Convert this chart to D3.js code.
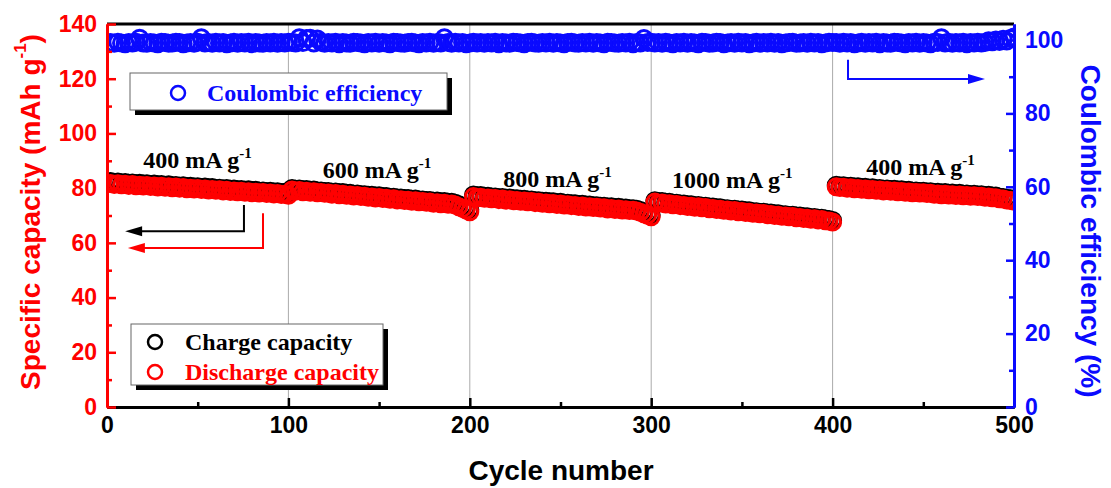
<!DOCTYPE html>
<meta charset="utf-8">
<style>
body { margin: 0; background: #fff; }
svg { display: block; }
.tick text { font-family: "Liberation Sans", Arial, sans-serif; font-weight: bold; font-size: 23px; }
.ann { font-family: "Liberation Serif", "Times New Roman", serif; font-weight: bold; font-size: 24px; }
.title { font-family: "Liberation Sans", Arial, sans-serif; font-weight: bold; font-size: 28px; }
</style>
<script src="https://d3js.org/d3.v7.min.js"></script>
<body>
<script>

// cycle numbers sampled every 2 cycles, 50 per current-density step
var cycles = d3.range(2, 501, 2);

var discharge400a = [81.7,81.3,81.6,81.2,81.4,81.0,81.3,80.9,81.1,80.8, 81.0,80.6,80.8,80.4,80.7,80.3,80.5,80.1,80.4,80.0,
  80.2,79.8,80.0,79.7,79.9,79.5,79.7,79.3,79.5,79.2, 79.4,79.0,79.2,78.8,79.0,78.7,78.9,78.5,78.7,78.3, 78.5,78.2,78.4,78.0,78.2,77.9,78.0,77.7,77.8,77.4];
var discharge600 = [79.3,78.9,79.1,78.7,78.9,78.5,78.7,78.3,78.4,78.1, 78.2,77.8,78.0,77.6,77.8,77.4,77.5,77.1,77.3,76.9,
  77.0,76.7,76.8,76.4,76.6,76.2,76.3,75.9,76.1,75.7, 75.8,75.5,75.6,75.2,75.4,75.0,75.1,74.8,74.9,74.5, 74.7,74.3,74.5,74.1,74.2,73.8,73.2,72.6,72.0,71.4];
var discharge800 = [76.9,76.5,76.7,76.3,76.4,76.1,76.2,75.8,76.0,75.6, 75.8,75.4,75.5,75.2,75.3,75.0,75.1,74.7,74.8,74.5,
  74.6,74.3,74.4,74.0,74.2,73.8,73.9,73.6,73.7,73.3, 73.5,73.1,73.2,72.9,73.0,72.7,72.8,72.4,72.6,72.2, 72.4,72.0,72.1,71.8,71.9,71.6,71.2,70.6,70.1,69.5];
var discharge1000 = [74.9,74.5,74.6,74.2,74.3,73.9,74.0,73.6,73.7,73.3, 73.4,73.0,73.2,72.8,72.9,72.5,72.6,72.2,72.3,71.9,
  72.0,71.6,71.8,71.4,71.5,71.1,71.2,70.8,70.9,70.6, 70.7,70.3,70.4,70.0,70.1,69.7,69.8,69.5,69.6,69.2, 69.3,68.9,69.0,68.6,68.8,68.4,68.5,68.1,68.0,67.6];
var discharge400b = [80.5,80.2,80.3,80.0,80.1,79.8,79.9,79.6,79.7,79.4, 79.5,79.2,79.3,79.0,79.1,78.9,79.0,78.7,78.8,78.5,
  78.6,78.3,78.4,78.2,78.3,78.0,78.1,77.8,77.9,77.6, 77.8,77.5,77.6,77.3,77.5,77.2,77.3,77.0,77.2,76.9, 77.0,76.7,76.8,76.5,76.5,76.1,76.0,75.7,75.5,75.2];

var charge400a = [82.4,82.1,82.2,81.9,82.1,81.8,81.9,81.6,81.8,81.5, 81.6,81.3,81.5,81.2,81.3,81.0,81.2,80.9,81.0,80.7,
  80.9,80.6,80.7,80.4,80.5,80.2,80.4,80.1,80.2,79.9, 80.0,79.7,79.9,79.6,79.7,79.4,79.5,79.2,79.4,79.1, 79.2,78.9,79.0,78.7,78.9,78.6,78.7,78.4,78.5,78.2];
var charge600 = [79.9,79.6,79.7,79.4,79.5,79.2,79.3,79.0,79.0,78.8, 78.8,78.5,78.6,78.3,78.4,78.1,78.1,77.8,77.9,77.6,
  77.6,77.4,77.4,77.1,77.2,76.9,76.9,76.6,76.7,76.4, 76.4,76.2,76.2,75.9,76.0,75.7,75.7,75.5,75.5,75.2, 75.3,75.0,75.1,74.8,74.8,74.5,73.9,73.3,72.7,72.1];
var charge800 = [77.5,77.2,77.3,77.0,77.0,76.8,76.8,76.5,76.6,76.3, 76.4,76.1,76.1,75.9,75.9,75.7,75.7,75.4,75.4,75.2,
  75.2,75.0,75.0,74.7,74.8,74.5,74.5,74.3,74.3,74.0, 74.1,73.8,73.8,73.6,73.6,73.4,73.4,73.1,73.2,72.9, 73.0,72.7,72.7,72.5,72.5,72.3,71.8,71.3,70.7,70.2];
var charge1000 = [75.4,75.1,75.1,74.8,74.8,74.5,74.5,74.2,74.2,73.9, 73.9,73.6,73.7,73.4,73.4,73.1,73.1,72.8,72.8,72.5,
  72.5,72.2,72.3,72.0,72.0,71.7,71.7,71.4,71.4,71.1, 71.2,70.9,70.9,70.6,70.6,70.3,70.3,70.0,70.1,69.8, 69.8,69.5,69.5,69.2,69.3,69.0,69.0,68.7,68.5,68.2];
var charge400b = [81.1,80.8,80.9,80.6,80.7,80.4,80.5,80.2,80.3,80.0, 80.1,79.8,79.9,79.6,79.7,79.5,79.6,79.3,79.4,79.1,
  79.2,78.9,79.0,78.8,78.9,78.6,78.7,78.4,78.5,78.2, 78.4,78.1,78.2,77.9,78.1,77.8,77.9,77.6,77.8,77.5, 77.6,77.3,77.4,77.1,77.1,76.7,76.6,76.3,76.1,75.8];

var ce400a = [99.3,99.1,99.4,99.2,99.0,99.3,99.2,99.4,100.5,99.2, 99.1,99.3,99.2,99.0,99.4,99.3,99.1,99.2,99.4,99.3,
  99.0,99.2,99.3,99.1,99.4,100.6,99.2,99.3,99.1,99.4, 99.2,99.3,99.0,99.2,99.4,99.1,99.3,99.2,99.4,99.0, 99.3,99.2,99.1,99.3,99.2,99.4,99.1,99.3,99.2,99.4];
var ce600 = [99.3,99.2,100.6,99.3,100.4,100.5,99.2,100.3,99.4,99.1, 99.3,99.2,99.4,99.0,99.3,99.2,99.1,99.4,99.3,99.2,
  99.0,99.3,99.2,99.4,99.1,99.3,99.2,99.0,99.4,99.3, 99.2,99.1,99.3,99.4,99.2,99.0,99.3,99.2,99.4,99.1, 99.3,99.2,100.6,99.3,99.1,99.4,99.2,99.3,99.0,99.2];
var ce800 = [99.4,99.2,99.3,99.1,99.3,99.2,99.4,99.0,99.3,99.2, 99.1,99.4,99.3,99.2,99.0,99.3,99.4,99.2,99.1,99.3,
  99.2,99.4,99.1,99.3,99.2,99.0,99.3,99.4,99.2,99.1, 99.3,99.2,99.4,99.1,99.3,99.2,99.0,99.4,99.3,99.2, 99.1,99.3,99.2,99.4,99.0,99.3,99.2,100.4,99.3,99.4];
var ce1000 = [99.2,99.3,99.1,99.4,99.2,99.0,99.3,99.2,99.4,99.1, 99.3,99.2,99.0,99.4,99.3,99.1,99.2,99.4,99.3,99.0,
  99.2,99.3,99.1,99.4,99.2,99.3,99.0,99.2,99.4,99.1, 99.3,99.2,99.4,99.1,99.3,99.0,99.2,99.3,99.4,99.1, 99.2,99.3,99.1,99.4,99.2,99.3,99.0,99.2,99.4,99.3];
var ce400b = [99.3,99.1,99.4,99.2,99.3,99.0,99.2,99.4,99.1,99.3, 99.2,99.4,99.0,99.3,99.2,99.1,99.4,99.3,99.2,99.0,
  99.3,99.2,99.4,99.1,99.3,99.2,99.0,99.4,99.3,100.6, 99.2,99.4,99.1,99.3,99.2,99.4,99.0,99.3,99.2,99.4, 99.2,99.3,99.8,99.5,100.0,99.6,100.2,99.7,100.4,100.8];

var rateLabels = ["400", "600", "800", "1000", "400"];
var xTicks = [0, 100, 200, 300, 400, 500];
var xMinor = [50, 150, 250, 350, 450];
var capTicks = [0, 20, 40, 60, 80, 100, 120, 140];
var capMinor = [10, 30, 50, 70, 90, 110, 130];
var ceTicks = [0, 20, 40, 60, 80, 100];
var ceMinor = [10, 30, 50, 70, 90];

var discharge = [].concat(discharge400a, discharge600, discharge800, discharge1000, discharge400b);
var charge = [].concat(charge400a, charge600, charge800, charge1000, charge400b);
var ce = [].concat(ce400a, ce600, ce800, ce1000, ce400b);

var width = 1111, height = 488;
var pLeft = 107, pRight = 1014, pTop = 24, pBottom = 407;

var RED = "#ff0000", BLUE = "#0a0aff";

var svg = d3.select("body").append("svg").attr("width", width).attr("height", height);

var x = d3.scaleLinear().domain([0, 500]).range([pLeft, pRight]);
var y = d3.scaleLinear().domain([0, 140]).range([pBottom, pTop]);
var y2 = d3.scaleLinear().domain([0, 104.36]).range([pBottom, pTop]);

// grid lines
svg.append("g").selectAll("line").data([100, 200, 300, 400]).enter().append("line")
  .attr("x1", d => x(d)).attr("x2", d => x(d))
  .attr("y1", pTop).attr("y2", pBottom)
  .attr("stroke", "#aaa").attr("stroke-width", 1);

svg.append("clipPath").attr("id", "plotClip")
  .append("rect").attr("x", pLeft).attr("y", pTop).attr("width", pRight - pLeft).attr("height", pBottom - pTop);

var plot = svg.append("g").attr("clip-path", "url(#plotClip)");

function dots(vals, scale, color) {
  plot.append("g").selectAll("circle").data(vals).enter().append("circle")
    .attr("cx", (d, i) => x(cycles[i]))
    .attr("cy", d => scale(d))
    .attr("r", 8)
    .attr("fill", "none")
    .attr("stroke", color)
    .attr("stroke-width", 3);
}
dots(charge, y, "#000");
dots(discharge, y, RED);
dots(ce, y2, BLUE);

// axes
function styleAxis(g, color) {
  g.select(".domain").attr("stroke", color).attr("stroke-width", 3);
  g.selectAll(".tick line").attr("stroke", color).attr("stroke-width", 2.5);
  g.selectAll(".tick text").attr("fill", color);
}

svg.append("line").attr("x1", pLeft).attr("x2", pRight).attr("y1", pTop).attr("y2", pTop)
  .attr("stroke", "#000").attr("stroke-width", 3);

var gx = svg.append("g").attr("transform", "translate(0," + pBottom + ")")
  .call(d3.axisBottom(x).tickValues(xTicks).tickSizeInner(-9).tickSizeOuter(0).tickPadding(10));
styleAxis(gx, "#000");
var gxm = svg.append("g").attr("transform", "translate(0," + pBottom + ")")
  .call(d3.axisBottom(x).tickValues(xMinor).tickSizeInner(-5).tickSizeOuter(0).tickFormat(""));
styleAxis(gxm, "#000");

var gy = svg.append("g").attr("transform", "translate(" + pLeft + ",0)")
  .call(d3.axisLeft(y).tickValues(capTicks).tickSizeInner(-9).tickSizeOuter(0).tickPadding(10));
styleAxis(gy, RED);
var gym = svg.append("g").attr("transform", "translate(" + pLeft + ",0)")
  .call(d3.axisLeft(y).tickValues(capMinor).tickSizeInner(-5).tickSizeOuter(0).tickFormat(""));
styleAxis(gym, RED);

var gy2 = svg.append("g").attr("transform", "translate(" + pRight + ",0)")
  .call(d3.axisRight(y2).tickValues(ceTicks).tickSizeInner(-8).tickSizeOuter(0).tickPadding(11));
styleAxis(gy2, BLUE);
var gy2m = svg.append("g").attr("transform", "translate(" + pRight + ",0)")
  .call(d3.axisRight(y2).tickValues(ceMinor).tickSizeInner(-5).tickSizeOuter(0).tickFormat(""));
styleAxis(gy2m, BLUE);

// axis titles
var lt = svg.append("text").attr("class", "title")
  .attr("transform", "translate(30,212) rotate(-90)")
  .attr("text-anchor", "middle").attr("dominant-baseline", "central").attr("fill", RED);
lt.append("tspan").text("Specific capacity (mAh g");
lt.append("tspan").attr("font-size", 17).attr("dy", -10).text("-1");
lt.append("tspan").attr("dy", 10).text(")");

svg.append("text").attr("class", "title")
  .attr("transform", "translate(1090,231) rotate(90)")
  .attr("text-anchor", "middle").attr("dominant-baseline", "central").attr("fill", BLUE)
  .text("Coulombic efficiency (%)");

svg.append("text").attr("class", "title")
  .attr("x", 561).attr("y", 480).attr("text-anchor", "middle").attr("fill", "#000")
  .text("Cycle number");

// current density labels
var labelPos = [[20, 87.4], [119, 83.7], [218.5, 80.6], [311.5, 80.2], [418.5, 84.8]];
rateLabels.forEach(function(r, i) {
  var t = svg.append("text").attr("class", "ann")
    .attr("x", x(labelPos[i][0])).attr("y", y(labelPos[i][1])).attr("fill", "#000")
    .text(r + " mA g");
  t.append("tspan").attr("font-size", 15).attr("dy", -10).text("-1");
});

// legend boxes
function box(bx, by, bw, bh) {
  svg.append("rect").attr("x", bx + 5).attr("y", by + 5).attr("width", bw).attr("height", bh).attr("fill", "#000");
  svg.append("rect").attr("x", bx).attr("y", by).attr("width", bw).attr("height", bh)
    .attr("fill", "#fff").attr("stroke", "#666").attr("stroke-width", 1);
}
box(130, 73, 317, 37);
svg.append("circle").attr("cx", 178).attr("cy", 93).attr("r", 7).attr("fill", "none").attr("stroke", BLUE).attr("stroke-width", 2.5);
svg.append("text").attr("class", "ann").attr("x", 207).attr("y", 101).attr("fill", BLUE).text("Coulombic efficiency");

box(131, 324, 252, 61);
svg.append("circle").attr("cx", 155).attr("cy", 342).attr("r", 7).attr("fill", "none").attr("stroke", "#000").attr("stroke-width", 2.5);
svg.append("text").attr("class", "ann").attr("x", 185).attr("y", 350).attr("fill", "#000").text("Charge capacity");
svg.append("circle").attr("cx", 155).attr("cy", 372).attr("r", 7).attr("fill", "none").attr("stroke", RED).attr("stroke-width", 2.5);
svg.append("text").attr("class", "ann").attr("x", 185).attr("y", 380).attr("fill", RED).text("Discharge capacity");

// axis arrows: elbow line ending in a filled head
function arrow(pts, color) {
  var tip = pts[pts.length - 1], prev = pts[pts.length - 2];
  var dir = tip[0] < prev[0] ? 1 : -1;
  var body = pts.slice(0, -1).concat([[tip[0] + dir * 10, tip[1]]]);
  svg.append("path").attr("d", d3.line()(body))
    .attr("fill", "none").attr("stroke", color).attr("stroke-width", 2);
  svg.append("path")
    .attr("d", "M" + tip[0] + "," + tip[1] + "L" + (tip[0] + dir * 17) + "," + (tip[1] - 5) + "L" + (tip[0] + dir * 17) + "," + (tip[1] + 5) + "Z")
    .attr("fill", color);
}
arrow([[x(75.5), y(73.8)], [x(75.5), y(64.2)], [x(10), y(64.2)]], "#000");
arrow([[x(86), y(70.8)], [x(86), y(58.1)], [x(11.5), y(58.1)]], RED);
arrow([[x(408.5), y2(94.6)], [x(408.5), y2(89.4)], [x(484), y2(89.4)]], BLUE);

</script>
</body>
